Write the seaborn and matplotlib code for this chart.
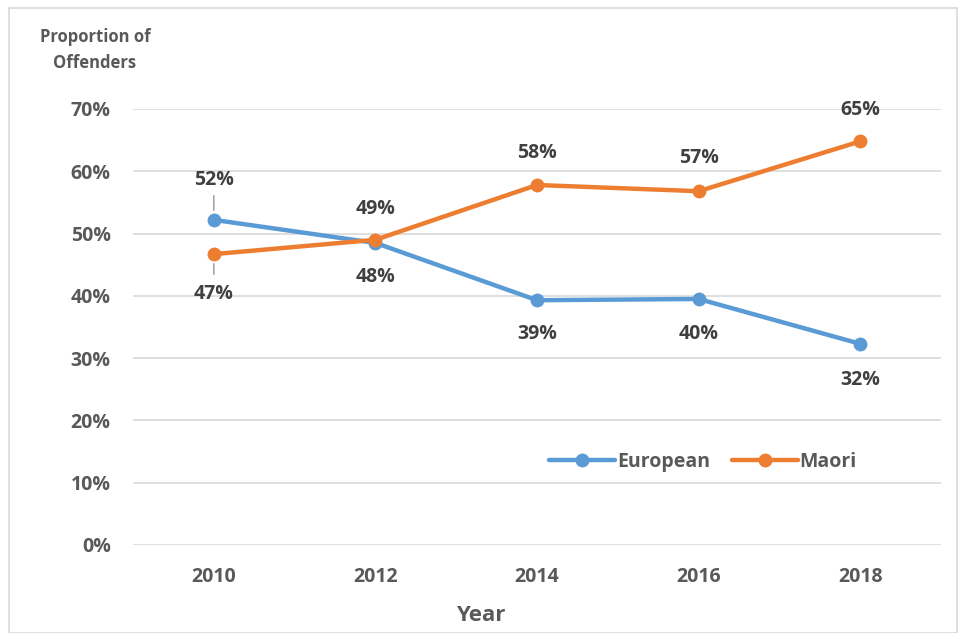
import matplotlib
matplotlib.use("Agg")
import matplotlib.pyplot as plt
import seaborn as sns
import pandas as pd
from matplotlib.patches import Rectangle

years = ["2010", "2012", "2014", "2016", "2018"]
european = [52.2, 48.5, 39.3, 39.5, 32.3]
maori = [46.7, 49.0, 57.8, 56.8, 64.8]
european_labels = ["52%", "48%", "39%", "40%", "32%"]
maori_labels = ["47%", "49%", "58%", "57%", "65%"]

sns.set_theme(style="white")
plt.rcParams["font.family"] = ["Open Sans", "DejaVu Sans"]

df = pd.DataFrame({
    "Year": years * 2,
    "Value": european + maori,
    "Group": ["European"] * 5 + ["Maori"] * 5,
})
df["x"] = list(range(5)) * 2

fig = plt.figure(figsize=(9.58, 6.33), dpi=100)
fig.patches.append(Rectangle((9 / 958, 0), 1 - 10 / 958, 1 - 8 / 633, transform=fig.transFigure,
                             fill=False, edgecolor="#D9D9D9", linewidth=1.2))
ax = fig.add_axes([133 / 958, 1 - 545 / 633, (941 - 133) / 958, (545 - 109) / 633])

palette = {"European": "#5B9BD5", "Maori": "#ED7D31"}
sns.lineplot(data=df, x="x", y="Value", hue="Group", palette=palette, marker="o",
             markersize=10, linewidth=3.2, markeredgewidth=0, ax=ax, legend=True)

ax.set_xlim(-0.5, 4.5)
ax.set_ylim(0, 70)
ax.set_yticks(range(0, 71, 10))
ax.set_yticklabels([f"{v}%" for v in range(0, 71, 10)])
ax.set_xticks(range(5))
ax.set_xticklabels(years)
ax.grid(axis="y", color="#D9D9D9", linewidth=1.2)
ax.set_axisbelow(True)
for s in ax.spines.values():
    s.set_visible(False)
ax.tick_params(axis="both", length=0, labelsize=14, labelcolor="#595959")
ax.tick_params(axis="y", pad=16)
ax.tick_params(axis="x", pad=16)
for t in ax.get_xticklabels() + ax.get_yticklabels():
    t.set_fontweight("bold")
ax.set_xlabel("Year", fontsize=16, fontweight="bold", color="#595959", labelpad=10)
ax.xaxis.set_label_coords((481 - 133) / 808, -0.138)
ax.set_ylabel("")

fig.text(95 / 958, 1 - 50 / 633, "Proportion of\nOffenders", ha="center", va="center",
         fontsize=12, fontweight="bold", color="#595959", linespacing=1.55)

eu_off = [-40, 34, 34, 35, 36]
ma_off = [40, -31, -32, -33, -31]
for i in range(5):
    ax.annotate(european_labels[i], (i, european[i]), xytext=(0, -eu_off[i] * 0.72),
                textcoords="offset points", ha="center", va="center", fontsize=14,
                fontweight="bold", color="#404040")
    ax.annotate(maori_labels[i], (i, maori[i]), xytext=(0, -ma_off[i] * 0.72),
                textcoords="offset points", ha="center", va="center", fontsize=14,
                fontweight="bold", color="#404040")

# leader lines for 2010 labels
ax.annotate("", xy=(0, european[0]), xytext=(0, 24 * 0.72), textcoords="offset points",
            xycoords="data", arrowprops=dict(arrowstyle="-", color="#A6A6A6", lw=1.2,
                                             shrinkA=0, shrinkB=7))
ax.annotate("", xy=(0, maori[0]), xytext=(0, -20 * 0.72), textcoords="offset points",
            xycoords="data", arrowprops=dict(arrowstyle="-", color="#A6A6A6", lw=1.2,
                                             shrinkA=0, shrinkB=7))

leg = ax.legend(loc="center", bbox_to_anchor=((703 - 133) / 808, (545 - 462) / 436), ncol=2,
                frameon=False, fontsize=14, handlelength=3.4, columnspacing=1.1,
                handletextpad=0.1)
for t in leg.get_texts():
    t.set_color("#595959")
    t.set_fontweight("bold")

fig.savefig("out.png", dpi=100)
